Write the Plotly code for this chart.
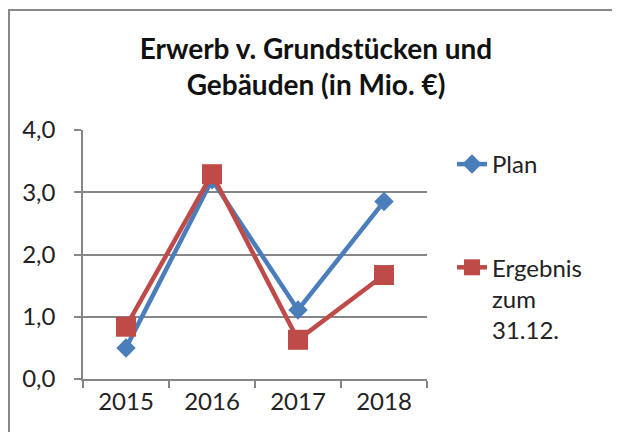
import plotly.graph_objects as go

years = ["2015", "2016", "2017", "2018"]
plan = [0.50, 3.20, 1.11, 2.85]
ergebnis = [0.84, 3.29, 0.63, 1.67]
series_names = ["Plan", "Ergebnis<br>zum<br>31.12."]
title_text = "Erwerb v. Grundstücken und<br>Gebäuden (in Mio. €)"
y_ticks = [0, 1, 2, 3, 4]

# page body has an 8px margin, so the figure starts at (8, 8)
OFF = 8
W, H = 612, 424
ml, mt = 83 - OFF, 130 - OFF
pw, ph = 344, 249
mr = W - ml - pw
mb = H - mt - ph

fig = go.Figure()
fig.add_trace(go.Scatter(
    x=years, y=plan, name=series_names[0], mode="lines+markers",
    legendgroup="plan",
    line=dict(color="#4A7EBB", width=4.5),
    marker=dict(symbol="diamond", size=15, color="#4A7EBB"),
))
fig.add_trace(go.Scatter(
    x=years, y=ergebnis, name=series_names[1], mode="lines+markers",
    legendgroup="erg",
    line=dict(color="#BE4B48", width=4.5),
    marker=dict(symbol="square", size=20, color="#BE4B48"),
))

def px_to_paper_x(px):
    return (px - OFF - ml) / pw

def px_to_paper_y(py):
    return (H - mb - (py - OFF)) / ph

fig.add_shape(type="rect", xref="paper", yref="paper",
              x0=px_to_paper_x(9), x1=px_to_paper_x(700),
              y0=px_to_paper_y(500), y1=px_to_paper_y(10),
              line=dict(color="#888888", width=2), fillcolor="rgba(0,0,0,0)",
              layer="below")

fig.update_layout(
    width=W, height=H,
    margin=dict(l=ml, r=mr, t=mt, b=mb),
    paper_bgcolor="white", plot_bgcolor="white",
    separators=",.",
    font=dict(family="Lato", color="#222222", size=24),
    title=dict(text=title_text, x=(316 - OFF) / W, xanchor="center",
               y=1 - (59 - OFF) / H, yanchor="middle",
               font=dict(family="Lato", size=28, color="#111111", weight="bold")),
    showlegend=True,
    legend=dict(x=px_to_paper_x(452), xanchor="left",
                y=px_to_paper_y(142), yanchor="top",
                valign="top", tracegroupgap=69, itemwidth=30,
                font=dict(family="Lato", size=24, color="#222222"),
                bgcolor="rgba(0,0,0,0)"),
    xaxis=dict(type="category", range=[-0.5, 3.5],
               showline=True, linecolor="#868686", linewidth=1.5,
               ticks="outside", tickson="boundaries", ticklen=7,
               tickcolor="#868686", tickwidth=1.5,
               showgrid=False, tickfont=dict(size=24, family="Lato"),
               fixedrange=True),
    yaxis=dict(range=[0, 4], tickvals=y_ticks, tickformat=".1f",
               showline=True, linecolor="#868686", linewidth=1.5,
               ticks="outside", ticklen=7, tickcolor="#868686", tickwidth=1.5,
               showgrid=True, gridcolor="#868686", gridwidth=1.5,
               zeroline=False, tickfont=dict(size=24, family="Lato"),
               ticklabelstandoff=14, fixedrange=True),
)

fig.write_html("out.html")
